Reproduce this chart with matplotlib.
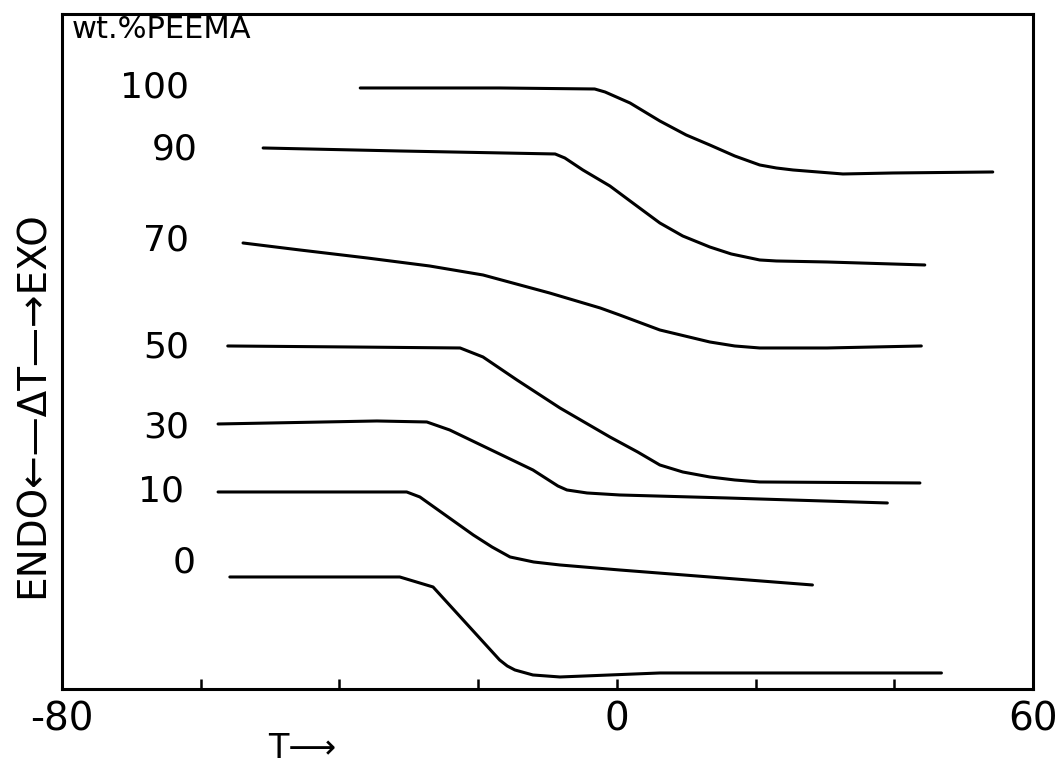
import matplotlib
matplotlib.use('Agg')
import matplotlib.pyplot as plt

# DTA traces, T in deg C, signal in arbitrary units (offset per composition)
labels = ['100', '90', '70', '50', '30', '10', '0']

t_100 = [-37.0, -16.9, -3.2, -1.7, 1.9, 6.2, 10.0, 13.4, 17.0, 20.6, 23.0, 25.4, 32.6, 39.8, 54.2]
y_100 = [601, 601, 600, 597, 586, 568, 554, 544, 533, 524, 521, 519, 515, 516, 517]

t_90 = [-51.0, -31.3, -8.9, -7.5, -4.9, -1.0, 2.3, 6.2, 9.5, 13.4, 16.5, 20.6, 23.0, 30.3, 44.4]
y_90 = [541, 538, 535, 531, 519, 503, 486, 466, 453, 442, 435, 429, 428, 427, 424]

t_70 = [-53.9, -45.7, -36.0, -27.0, -19.3, -9.7, -2.4, 0.4, 6.2, 13.4, 17.0, 20.6, 30.3, 43.9]
y_70 = [446, 439, 431, 423, 414, 396, 381, 374, 359, 347, 343, 341, 341, 343]

t_50 = [-56.1, -38.5, -22.6, -19.3, -14.4, -8.2, -1.0, 3.0, 6.2, 9.5, 13.4, 17.0, 20.6, 43.7]
y_50 = [343, 342, 341, 332, 309, 281, 252, 237, 224, 217, 212, 209, 207, 206]

t_30 = [-57.5, -34.6, -27.4, -24.1, -20.2, -12.1, -8.5, -7.2, -4.3, 0.4, 15.9, 39.0]
y_30 = [265, 268, 267, 259, 246, 219, 203, 199, 196, 194, 191, 186]

t_10 = [-57.5, -30.3, -28.4, -20.7, -18.0, -15.4, -12.0, -8.2, 0.4, 28.2]
y_10 = [197, 197, 192, 154, 142, 132, 127, 124, 119, 104]

t_0 = [-55.8, -31.3, -26.5, -16.9, -15.8, -14.7, -12.1, -8.2, 6.2, 46.8]
y_0 = [112, 112, 102, 29, 23, 19, 14, 12, 16, 16]

# where the composition labels sit
label_t = [-66.6, -63.8, -65.0, -65.0, -65.0, -65.7, -62.4]
label_y = [601, 539, 448, 341, 261, 197, 126]

xticks = [-80, -60, -40, -20, 0, 20, 40, 60]
xticklabels = ['-80', '', '', '', '0', '', '', '60']

fam = ['Liberation Sans Narrow', 'DejaVu Sans']
plt.rcParams['font.family'] = fam

fig = plt.figure(figsize=(10.6, 7.64), dpi=100)
ax = fig.add_axes([0.0585, 0.0982, 0.916, 0.8835])

curves = [(t_100, y_100), (t_90, y_90), (t_70, y_70), (t_50, y_50),
          (t_30, y_30), (t_10, y_10), (t_0, y_0)]
for t, y in curves:
    ax.plot(t, y, color='black', lw=2.2, solid_capstyle='round',
            solid_joinstyle='round')

for lab, lt, ly in zip(labels, label_t, label_y):
    ax.text(lt, ly, lab, ha='center', va='center', fontsize=26)

ax.text(-78.6, 659, 'wt.%PEEMA', ha='left', va='center', fontsize=22)

ax.set_xlim(-80, 60)
ax.set_ylim(0, 675)
ax.set_xticks(xticks)
ax.set_xticklabels(xticklabels, fontsize=28)
ax.set_yticks([])
ax.tick_params(axis='x', direction='in', length=7, width=1.8, pad=8)
for s in ax.spines.values():
    s.set_linewidth(2.2)

fig.text(0.031, 1 - 405 / 764, 'ENDO\u2190\u2014\u0394T\u2014\u2192EXO', rotation=90,
         ha='center', va='center', fontsize=28)
fig.text(0.285, 1 - 748 / 764, 'T\u27f6', ha='center', va='center', fontsize=24,
         family=fam)

fig.savefig('out.png', dpi=100)
